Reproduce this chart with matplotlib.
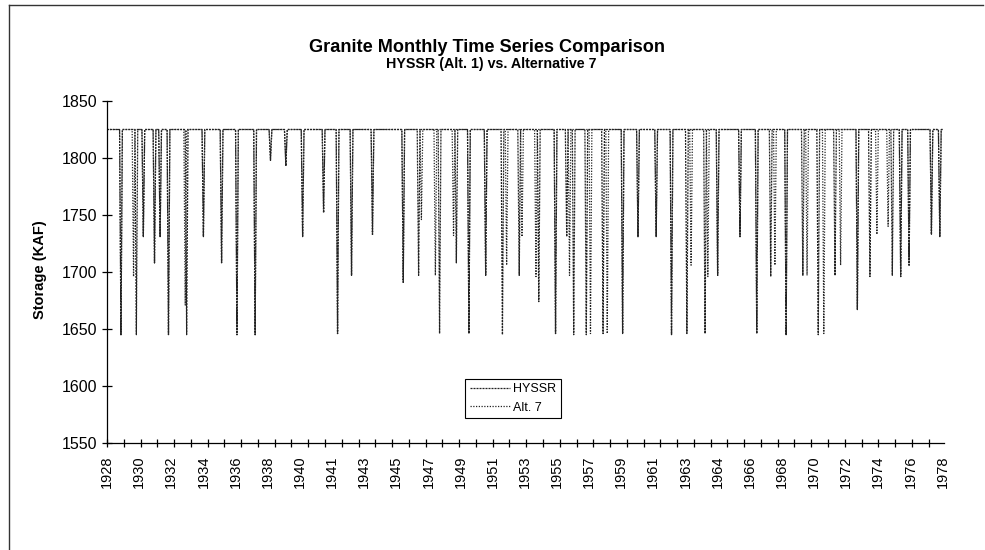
import matplotlib
matplotlib.use("Agg")
import matplotlib.pyplot as plt
import numpy as np
from matplotlib.lines import Line2D

plt.rcParams["font.family"] = ["Liberation Sans", "DejaVu Sans"]

# monthly storage, reservoir sits at full pool except for the drawdown months
full_pool = 1825
n_months = 599

hyssr_months = [10, 21, 26, 34, 38, 44, 57, 69, 82, 93,
                106, 117, 128, 140, 155, 165, 175, 190, 212, 223,
                238, 250, 259, 271, 283, 295, 309, 321, 329, 334,
                343, 355, 369, 380, 393, 404, 415, 428, 437, 453,
                465, 475, 486, 498, 509, 521, 537, 546, 562, 568,
                574, 590, 596]
hyssr_values = [1645, 1645, 1731, 1708, 1731, 1645, 1645, 1731, 1708, 1645,
                1645, 1798, 1793, 1731, 1752, 1646, 1697, 1733, 1691, 1697,
                1646, 1708, 1646, 1697, 1645, 1697, 1674, 1646, 1731, 1645,
                1645, 1646, 1646, 1731, 1731, 1645, 1646, 1646, 1697, 1731,
                1646, 1696, 1645, 1697, 1645, 1697, 1667, 1696, 1697, 1696,
                1706, 1733, 1731]

alt7_months = [10, 19, 26, 34, 38, 44, 56, 69, 82, 93,
               106, 117, 128, 140, 155, 165, 175, 190, 212, 225,
               235, 248, 259, 271, 286, 297, 307, 321, 331, 346,
               358, 369, 380, 393, 404, 418, 430, 437, 453, 465,
               478, 486, 501, 513, 525, 537, 551, 559, 568, 574,
               590, 596]
alt7_values = [1645, 1696, 1731, 1708, 1731, 1645, 1671, 1731, 1708, 1645,
               1645, 1798, 1793, 1731, 1752, 1646, 1697, 1733, 1691, 1746,
               1697, 1732, 1646, 1697, 1706, 1731, 1696, 1646, 1697, 1646,
               1646, 1646, 1731, 1731, 1645, 1706, 1696, 1697, 1731, 1646,
               1706, 1645, 1697, 1646, 1706, 1667, 1733, 1740, 1696, 1706,
               1733, 1731]

year_labels = ["1928", "1930", "1932", "1934", "1936", "1938", "1940", "1941",
               "1943", "1945", "1947", "1949", "1951", "1953", "1955", "1957",
               "1959", "1961", "1963", "1964", "1966", "1968", "1970", "1972",
               "1974", "1976", "1978"]
label_step = 23
tick_step = 12


def build_series(months, values):
    series = np.full(n_months, float(full_pool))
    series[months] = values
    return series


hyssr = build_series(hyssr_months, hyssr_values)
alt7 = build_series(alt7_months, alt7_values)
x = np.arange(n_months)

fig = plt.figure(figsize=(9.85, 5.5), dpi=100)
ax = fig.add_axes([107 / 985, 1 - 443 / 550, 837 / 985, 342 / 550])

ax.plot(x, hyssr, color="#222222", lw=0.9, linestyle=(0, (1.6, 0.8)), label="HYSSR")
ax.plot(x, alt7, color="#222222", lw=0.9, linestyle=(0, (1, 1.2)), label="Alt. 7")

ax.set_xlim(0, n_months)
ax.set_ylim(1550, 1850)
ax.set_yticks(np.arange(1550, 1851, 50))

# yearly tick marks, labels every 23 months
ax.xaxis.remove_overlapping_locs = False
ax.set_xticks(np.arange(0, n_months, tick_step))
ax.set_xticklabels([])
ax.set_xticks(np.arange(len(year_labels)) * label_step, minor=True)
ax.set_xticklabels(year_labels, minor=True, rotation=90, fontsize=10.5)

ax.tick_params(axis="x", which="major", direction="inout", length=6, width=0.9)
ax.tick_params(axis="x", which="minor", length=0, pad=9)
ax.tick_params(axis="y", direction="inout", length=6.5, width=0.9, labelsize=11.5, pad=4)

for side in ("top", "right"):
    ax.spines[side].set_visible(False)
for side in ("left", "bottom"):
    ax.spines[side].set_linewidth(0.9)

leg = ax.legend(loc="lower left", bbox_to_anchor=(0.428, 0.073), fontsize=9,
                frameon=True, fancybox=False, framealpha=1, edgecolor="black",
                handlelength=3.2, handletextpad=0.3, borderpad=0.35,
                labelspacing=0.5, borderaxespad=0)
leg.get_frame().set_linewidth(0.8)

fig.text(487 / 985, 1 - 47 / 550, "Granite Monthly Time Series Comparison",
         ha="center", va="center", fontsize=13.1, fontweight="bold")
fig.text(491 / 985, 1 - 64 / 550, "HYSSR (Alt. 1) vs. Alternative 7",
         ha="center", va="center", fontsize=10.3, fontweight="bold")
fig.text(40 / 985, 1 - 270 / 550, "Storage (KAF)", rotation=90,
         ha="center", va="center", fontsize=10.5, fontweight="bold")

# page frame
fig.add_artist(Line2D([9 / 985, 983 / 985], [1 - 5 / 550, 1 - 5 / 550],
                      transform=fig.transFigure, color="#333333", lw=1))
fig.add_artist(Line2D([9 / 985, 9 / 985], [1 - 5 / 550, 0],
                      transform=fig.transFigure, color="#333333", lw=1))

fig.savefig("out.png", dpi=100)
